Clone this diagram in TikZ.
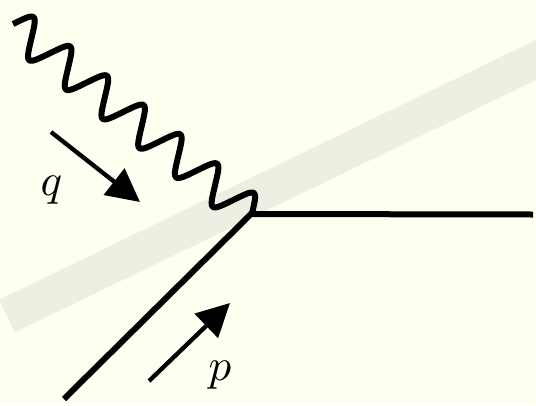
\documentclass[tikz,border=0pt]{standalone}
\usetikzlibrary{arrows.meta}
\definecolor{bgcol}{RGB}{254,255,240}
\definecolor{bandcol}{RGB}{238,238,226}
\tikzset{
  particle/.style={line width=6pt, black, line cap=butt},
  momentum/.style={line width=4.3pt, black, -{Triangle[length=33pt,width=33pt]}},
  lbl/.style={inner sep=0pt, scale=4.5}
}
\begin{document}
\begin{tikzpicture}[x=1pt,y=-1pt]
  \fill[bgcol] (0,0) rectangle (536,405);
  \useasboundingbox (0,0) rectangle (536,405);
  \begin{scope}
    \clip (0,0) rectangle (536,405);
    \coordinate (b1) at (7,316);
    \coordinate (b2) at (600,29);
    \draw[bandcol, line width=36pt, line cap=butt] (b1) -- (b2);
  \end{scope}
  \coordinate (V) at (251,214);
  \coordinate (A) at (13,24);
  \coordinate (E) at (533,214.5);
  \coordinate (B) at (64,399);
  % photon
  \draw[particle, line join=round] plot[domain=0:304.5, samples=600, variable=\s, smooth]
    ({13+0.7815*\s+0.6239*17.5*(sin(\s*7.6596)-sin(3*\s*7.6596)/30)},
     {24+0.6239*\s-0.7815*17.5*(sin(\s*7.6596)-sin(3*\s*7.6596)/30)}) -- (V);
  % fermion lines
  \draw[particle, line join=miter] (B) -- (V) -- (E);
  % momentum arrows
  \coordinate (q1) at (51,132);
  \coordinate (q2) at (140,202);
  \coordinate (p1) at (149,381);
  \coordinate (p2) at (230,303);
  \draw[momentum] (q1) -- (q2);
  \draw[momentum] (p1) -- (p2);
  \node[lbl] (ql) at (51.5,190.5) {$q$};
  \node[lbl] (pl) at (220,375) {$p$};
\end{tikzpicture}
\end{document}
